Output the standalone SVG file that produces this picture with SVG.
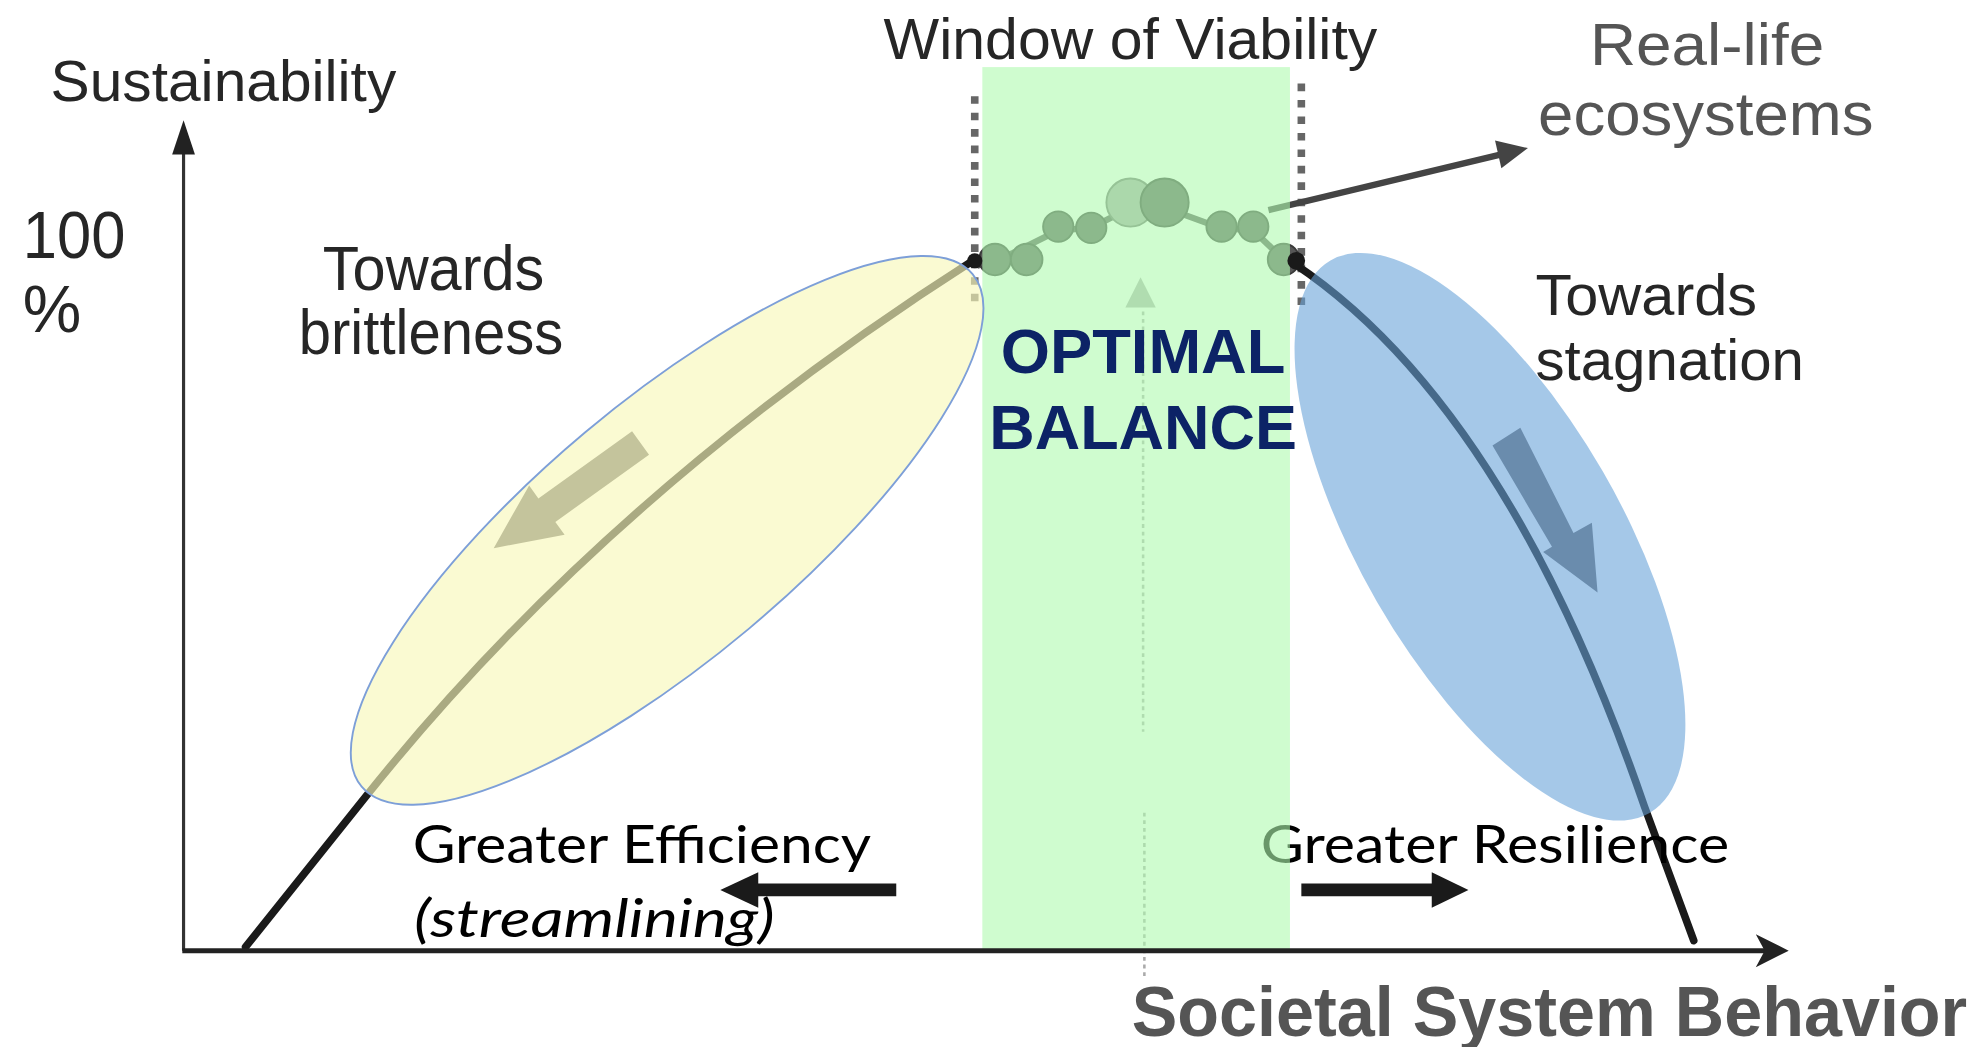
<svg xmlns="http://www.w3.org/2000/svg" width="1985" height="1047" viewBox="0 0 1985 1047">
<defs>
<style>
.lbl{font-family:"Liberation Sans",Arial,sans-serif;fill:#262626}
.gry{font-family:"Liberation Sans",Arial,sans-serif;fill:#555}
.cal{font-family:Lato,"Open Sans",sans-serif;fill:#000}
.dotw{stroke:#666;stroke-width:6;stroke-dasharray:6 7;fill:none}
.curve{fill:none;stroke:#1a1a1a;stroke-width:6;stroke-linecap:round;stroke-linejoin:round}
.bub{fill:#575757;stroke:#3a3a3a;stroke-width:1.5}
.blk{fill:#1a1a1a}
</style>
</defs>
<rect width="1985" height="1047" fill="#ffffff"/>
<g transform="scale(1.2659)">

<g id="window-bounds">
<line class="dotw" x1="770" y1="76" x2="770" y2="240"/>
<line class="dotw" x1="1028" y1="66" x2="1028" y2="248"/>
</g>

<g id="curve-left"><path class="curve" d="M194,748 L290,628 Q480,390 770,205"/></g>
<g id="curve-right"><path class="curve" d="M1022,208 Q1190,320 1299,637 L1338,743"/></g>

<g id="label-resilience"><text class="cal" x="996" y="682" font-size="42" textLength="370" lengthAdjust="spacingAndGlyphs">Greater Resilience</text></g>

<g id="connectors">
<line x1="1002" y1="166" x2="1186" y2="122" stroke="#444" stroke-width="5"/>
<path d="M1207,117 L1181,111 L1186,133 Z" fill="#444"/>
</g>

<g id="ecosystem-bubbles">
<polyline points="772,210 800,200 836,182 862,180 893,164 920,164 964,180 990,182 1014,205 1022,208" fill="none" stroke="#575757" stroke-width="5"/>
<circle class="bub" cx="786" cy="205" r="12.5"/>
<circle class="bub" cx="811" cy="205" r="12.5"/>
<circle class="bub" cx="836" cy="179" r="12"/>
<circle class="bub" cx="862" cy="180" r="12"/>
<circle cx="893" cy="160" r="19" fill="#a6a6a6" stroke="#707070" stroke-width="1.5"/>
<circle class="bub" cx="920" cy="160" r="19"/>
<circle class="bub" cx="965" cy="179" r="12"/>
<circle class="bub" cx="990" cy="179" r="12"/>
<circle class="bub" cx="1014" cy="205" r="12.5"/>
</g>

<g id="center-guide">
<line x1="903" y1="246" x2="903" y2="578" stroke="#b0b0b0" stroke-width="2" stroke-dasharray="3 3"/>
<line x1="904" y1="642" x2="904" y2="772" stroke="#aaaaaa" stroke-width="2" stroke-dasharray="3 3"/>
<path d="M901,219 L889,243 L913,243 Z" fill="#b2b2b2"/>
</g>

<g id="window-of-viability">
<rect x="776" y="53" width="243" height="697" fill="rgb(175,250,175)" fill-opacity="0.6"/>
</g>

<g id="axes">
<line x1="145" y1="118" x2="145" y2="751" stroke="#333" stroke-width="2.5"/>
<path d="M145,95 L136,122 L154,122 Z" fill="#222"/>
<line x1="144" y1="751" x2="1400" y2="751" stroke="#222" stroke-width="4"/>
<path d="M1413,751 L1387,738 L1394,751 L1387,764 Z" fill="#222"/>
</g>

<g id="zone-brittleness">
<ellipse cx="527" cy="419" rx="315" ry="101" transform="rotate(-40 527 419)" fill="rgb(247,247,186)" fill-opacity="0.65" stroke="#7d9fd8" stroke-width="1.5"/>
<path d="M512.7,359.3 L499.3,340.7 L425.3,393.7 L418,383.5 L390,433 L446,422.5 L438.7,412.3 Z" fill="#c4c49c"/>
</g>

<g id="zone-stagnation">
<ellipse cx="1177" cy="424" rx="252" ry="103" transform="rotate(60 1177 424)" fill="rgb(102,161,216)" fill-opacity="0.59"/>
<path d="M1201,338 L1243,421 L1257.5,413 L1262,468 L1219,436 L1226,432 L1179,352 Z" fill="#6a8cad"/>
</g>

<g id="curve-ends">
<circle class="blk" cx="770" cy="206" r="6"/>
<circle class="blk" cx="1024" cy="206" r="7"/>
</g>

<g id="direction-arrows">
<line x1="708" y1="703" x2="596" y2="703" stroke="#1a1a1a" stroke-width="10"/>
<path d="M569,703 L599,689 L599,717 Z" class="blk"/>
<line x1="1028" y1="703" x2="1134" y2="703" stroke="#1a1a1a" stroke-width="10"/>
<path d="M1160,703 L1131,689 L1131,717 Z" class="blk"/>
</g>

<g id="labels">
<text class="lbl" x="40" y="80" font-size="46" textLength="273" lengthAdjust="spacingAndGlyphs">Sustainability</text>
<text class="lbl" x="18" y="204" font-size="52" textLength="81" lengthAdjust="spacingAndGlyphs">100</text>
<text class="lbl" x="18" y="262" font-size="52">%</text>
<text class="lbl" x="255" y="229" font-size="49" textLength="175" lengthAdjust="spacingAndGlyphs">Towards</text>
<text class="lbl" x="236" y="280" font-size="49" textLength="209" lengthAdjust="spacingAndGlyphs">brittleness</text>
<text class="lbl" x="698" y="47" font-size="45" textLength="390" lengthAdjust="spacingAndGlyphs">Window of Viability</text>
<text class="gry" x="1256" y="51" font-size="47" textLength="185" lengthAdjust="spacingAndGlyphs">Real-life</text>
<text class="gry" x="1215" y="107" font-size="48" textLength="265" lengthAdjust="spacingAndGlyphs">ecosystems</text>
<text class="lbl" x="1213" y="249" font-size="45" textLength="175" lengthAdjust="spacingAndGlyphs">Towards</text>
<text class="lbl" x="1213" y="300" font-size="45" textLength="212" lengthAdjust="spacingAndGlyphs">stagnation</text>
<text x="903" y="295" font-family="'Liberation Sans',Arial,sans-serif" font-weight="bold" font-size="50" fill="#0c2366" text-anchor="middle" textLength="225" lengthAdjust="spacingAndGlyphs">OPTIMAL</text>
<text x="903" y="355" font-family="'Liberation Sans',Arial,sans-serif" font-weight="bold" font-size="50" fill="#0c2366" text-anchor="middle" textLength="243" lengthAdjust="spacingAndGlyphs">BALANCE</text>
<text class="cal" x="326" y="682" font-size="42" textLength="362" lengthAdjust="spacingAndGlyphs">Greater Efficiency</text>
<text class="cal" x="327" y="740" font-size="42" font-style="italic" textLength="285" lengthAdjust="spacingAndGlyphs">(streamlining)</text>
<text class="gry" x="894" y="818" font-size="55" font-weight="bold" textLength="660" lengthAdjust="spacingAndGlyphs">Societal System Behavior</text>
</g>

</g>
</svg>
